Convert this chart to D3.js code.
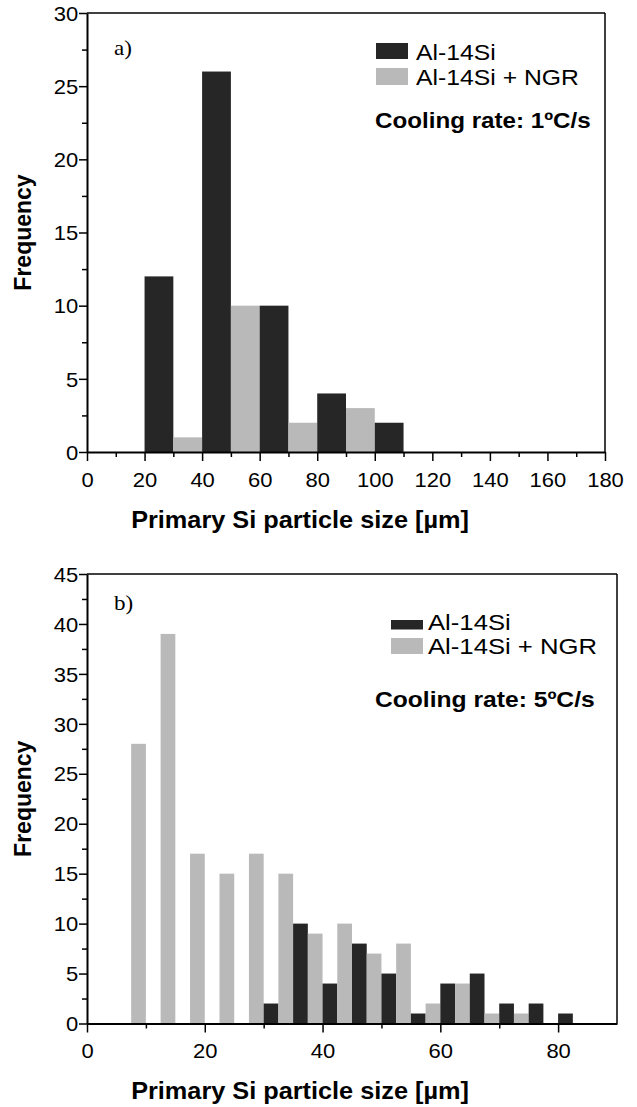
<!DOCTYPE html>
<html>
<head>
<meta charset="utf-8">
<script src="https://cdn.jsdelivr.net/npm/d3@7"></script>
<style>
  html, body { margin: 0; padding: 0; background: #fff; }
  svg { display: block; }
  text { font-family: "Liberation Sans", Arial, sans-serif; fill: #000; }
</style>
</head>
<body>
<svg id="chart" width="637" height="1107"></svg>
<script>
// ---------------- DATA ----------------
// Panel a) cooling rate 1 °C/s, bins of 20 µm (bin start)
const binsA = [20, 40, 60, 80, 100];
const blackA = [12, 26, 10, 4, 2];   // Al-14Si
const grayA  = [1, 10, 2, 3, 0];     // Al-14Si + NGR
const xTicksA = [0, 20, 40, 60, 80, 100, 120, 140, 160, 180];
const yTicksA = [0, 5, 10, 15, 20, 25, 30];

// Panel b) cooling rate 5 °C/s, bins of 5 µm (bin start)
const binsB  = [5, 10, 15, 20, 25, 30, 35, 40, 45, 50, 55, 60, 65, 70, 75, 80];
const blackB = [0, 0, 0, 0, 0, 2, 10, 4, 8, 5, 1, 4, 5, 2, 2, 1];
const grayB  = [28, 39, 17, 15, 17, 15, 9, 10, 7, 8, 2, 4, 1, 1, 0, 0];
const xTicksB = [0, 20, 40, 60, 80];
const yTicksB = [0, 5, 10, 15, 20, 25, 30, 35, 40, 45];

const seriesNames = ["Al-14Si", "Al-14Si + NGR"];
const colors = ["#262626", "#b9b9b9"];

// ---------------- DRAW ----------------
const svg = d3.select("#chart");
const SX = 1.1; // horizontal text stretch seen in the figure

function addText(g, x, y, str, size, opts = {}) {
  const sx = opts.sx || SX;
  const t = g.append("text")
    .attr("transform", `translate(${x},${y}) scale(${sx},1)` + (opts.rotate ? ` rotate(${opts.rotate})` : ""))
    .style("font-size", size + "px")
    .text(str);
  if (opts.bold) t.style("font-weight", "bold");
  if (opts.anchor) t.attr("text-anchor", opts.anchor);
  if (opts.family) t.style("font-family", opts.family);
  return t;
}

function panel(cfg) {
  const x = d3.scaleLinear().domain(cfg.xDomain).range([cfg.left, cfg.right]);
  const y = d3.scaleLinear().domain(cfg.yDomain).range([cfg.bottom, cfg.top]);
  const g = svg.append("g");

  // bars
  const half = cfg.binWidth / 2;
  const barsData = [];
  cfg.bins.forEach((b, i) => {
    barsData.push({x0: b, x1: b + half, v: cfg.black[i], s: 0});
    barsData.push({x0: b + half, x1: b + cfg.binWidth, v: cfg.gray[i], s: 1});
  });
  g.selectAll("rect.bar").data(barsData.filter(d => d.v > 0)).join("rect")
    .attr("class", "bar")
    .attr("x", d => x(d.x0))
    .attr("width", d => x(d.x1) - x(d.x0))
    .attr("y", d => y(d.v))
    .attr("height", d => y(0) - y(d.v))
    .attr("fill", d => colors[d.s]);

  // box top & right
  g.append("line").attr("x1", x(cfg.xDomain[0])).attr("x2", x(cfg.xDomain[1]))
    .attr("y1", y(cfg.yDomain[1])).attr("y2", y(cfg.yDomain[1]))
    .attr("stroke", "#000").attr("stroke-width", 1.5);
  g.append("line").attr("x1", x(cfg.xDomain[1])).attr("x2", x(cfg.xDomain[1]))
    .attr("y1", y(cfg.yDomain[1])).attr("y2", y(0))
    .attr("stroke", "#000").attr("stroke-width", 1.5);

  // minor y ticks
  const yMinor = [];
  for (let i = 0; i < cfg.yTicks.length - 1; i++) yMinor.push((cfg.yTicks[i] + cfg.yTicks[i+1]) / 2);
  g.append("g").attr("transform", `translate(${cfg.left},0)`)
    .call(d3.axisLeft(y).tickValues(yMinor).tickSize(5).tickSizeOuter(0).tickFormat(""))
    .call(a => a.select(".domain").remove())
    .selectAll("line").attr("stroke-width", 1.5);

  // major y axis
  const ya = g.append("g").attr("transform", `translate(${cfg.left},0)`)
    .call(d3.axisLeft(y).tickValues(cfg.yTicks).tickSize(8).tickPadding(0).tickSizeOuter(0));
  ya.select(".domain").attr("stroke-width", 2);
  ya.selectAll(".tick line").attr("stroke-width", 1.5);
  ya.selectAll("text").style("font-size", "20px").attr("dy", "0.36em")
    .attr("transform", `scale(${SX},1)`);

  // minor x ticks
  const xMinor = [];
  for (let i = 0; i < cfg.xTicks.length - 1; i++) xMinor.push((cfg.xTicks[i] + cfg.xTicks[i+1]) / 2);
  g.append("g").attr("transform", `translate(0,${cfg.bottom})`)
    .call(d3.axisBottom(x).tickValues(xMinor).tickSize(5).tickSizeOuter(0).tickFormat(""))
    .call(a => a.select(".domain").remove())
    .selectAll("line").attr("stroke-width", 1.5);

  // major x axis
  const xa = g.append("g").attr("transform", `translate(0,${cfg.bottom})`)
    .call(d3.axisBottom(x).tickValues(cfg.xTicks).tickSize(9).tickSizeOuter(0));
  xa.select(".domain").attr("stroke-width", 2.2);
  xa.selectAll(".tick line").attr("stroke-width", 1.5);
  xa.selectAll("text").style("font-size", "20px").attr("dy", null).attr("y", cfg.xLabelOffset)
    .attr("transform", `scale(${SX},1)`);

  // panel letter
  addText(g, cfg.left + 27, cfg.letterY, cfg.letter, 21,
    {family: "'Liberation Serif', 'Times New Roman', serif"});

  // legend
  cfg.legendRows.forEach((r, i) => {
    g.append("rect").attr("x", r.sx).attr("y", r.sy).attr("width", r.sw).attr("height", r.sh)
      .attr("fill", colors[i]);
    addText(g, r.tx, r.ty, seriesNames[i], cfg.legendSize, {sx: cfg.legendSX});
  });

  // cooling rate
  addText(g, cfg.coolX, cfg.coolY, cfg.coolText, cfg.coolSize, {bold: true});

  // axis titles
  addText(g, 31, (cfg.top + cfg.bottom) / 2, "Frequency", 23, {bold: true, anchor: "middle", rotate: -90, sx: 1});
  addText(g, cfg.titleX, cfg.titleY, "Primary Si particle size [µm]", 23, {bold: true, anchor: "middle"});
}

panel({
  xDomain: [0, 180], yDomain: [0, 30],
  left: 87, right: 605, top: 13, bottom: 452,
  bins: binsA, black: blackA, gray: grayA, binWidth: 20,
  xTicks: xTicksA, yTicks: yTicksA,
  xLabelOffset: 35,
  letter: "a)", letterY: 55,
  legendRows: [
    {sx: 376, sy: 43, sw: 32, sh: 16, tx: 416, ty: 60},
    {sx: 376, sy: 68, sw: 32, sh: 17, tx: 416, ty: 85}
  ],
  legendSize: 22, legendSX: 1.125,
  coolX: 375, coolY: 128, coolSize: 22, coolText: "Cooling rate: 1ºC/s",
  titleX: 300, titleY: 528
});

panel({
  xDomain: [0, 90], yDomain: [0, 45],
  left: 87, right: 617, top: 574, bottom: 1023.5,
  bins: binsB, black: blackB, gray: grayB, binWidth: 5,
  xTicks: xTicksB, yTicks: yTicksB,
  xLabelOffset: 34.5,
  letter: "b)", letterY: 610,
  legendRows: [
    {sx: 391, sy: 620, sw: 32, sh: 9.5, tx: 428, ty: 630},
    {sx: 391, sy: 638, sw: 32, sh: 16, tx: 428, ty: 654}
  ],
  legendSize: 21.4, legendSX: 1.2,
  coolX: 375, coolY: 707, coolSize: 22.4, coolText: "Cooling rate: 5ºC/s",
  titleX: 300, titleY: 1099
});
</script>
</body>
</html>
